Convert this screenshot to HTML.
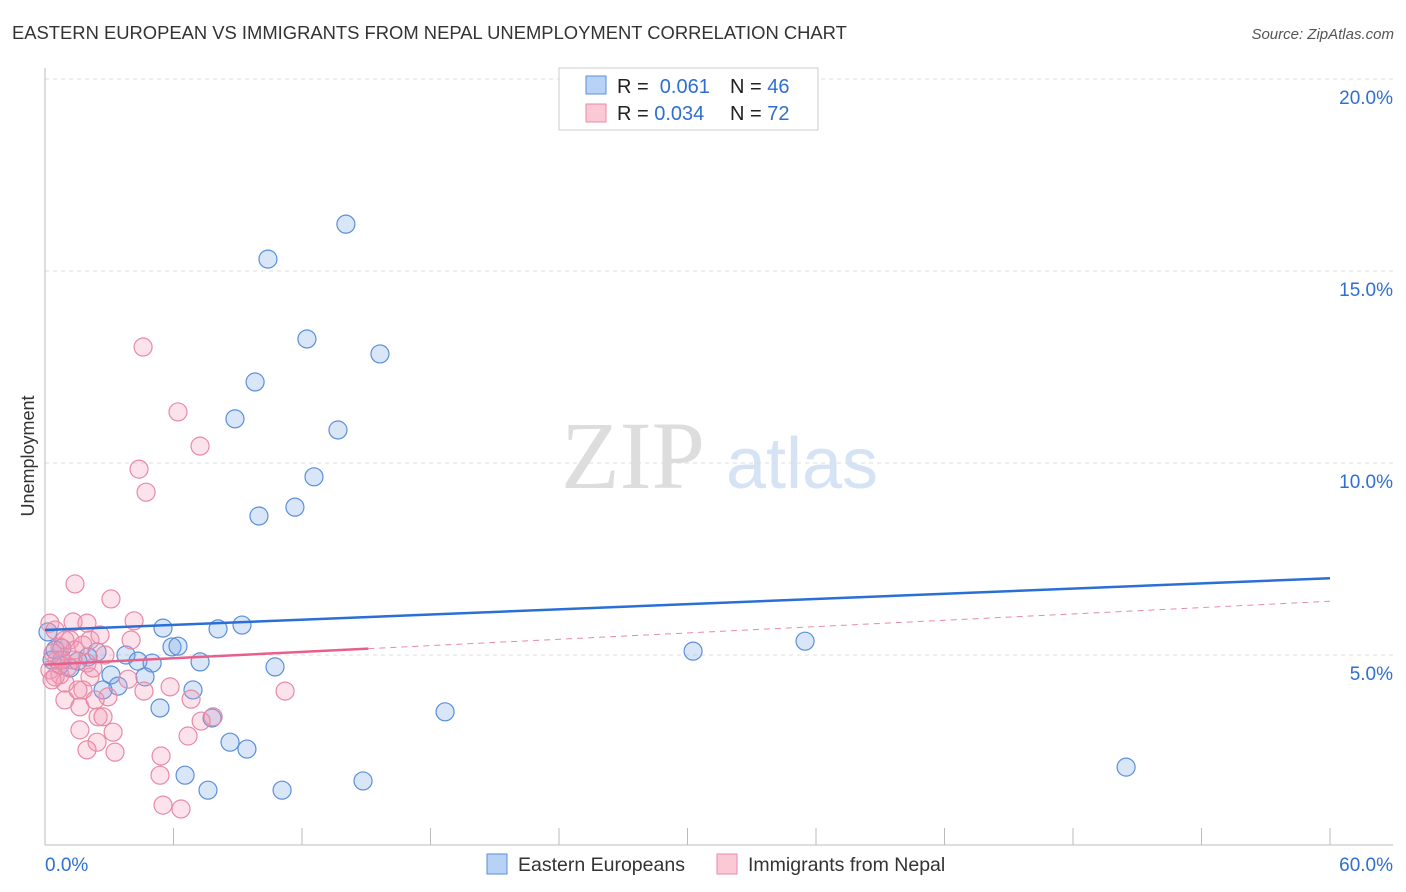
<!DOCTYPE html>
<html><head><meta charset="utf-8"><style>
body{margin:0;background:#fff;font-family:"Liberation Sans",sans-serif;}
svg{display:block}
</style></head><body>
<svg id="c" width="1406" height="892">
<text x="12" y="39" font-size="18.4" fill="#333">EASTERN EUROPEAN VS IMMIGRANTS FROM NEPAL UNEMPLOYMENT CORRELATION CHART</text>
<text x="1394" y="39" font-size="15" fill="#555" font-style="italic" text-anchor="end">Source: ZipAtlas.com</text>
<text x="633" y="488" font-size="96" fill="#ddd" font-family="Liberation Serif,serif" text-anchor="middle">ZIP</text>
<text x="802" y="488" font-size="72" fill="#d5e3f5" text-anchor="middle">atlas</text>
<text transform="translate(34,456) rotate(-90)" font-size="18" fill="#333" text-anchor="middle">Unemployment</text>
<g id="grid"></g><g id="marks"></g>
<g>
<rect x="559" y="68" width="259" height="62" fill="#fff" stroke="#ccc"/>
<rect x="586" y="76" width="20" height="18" fill="#b8d2f5" stroke="#5b8fd9"/>
<rect x="586" y="104" width="20" height="18" fill="#fbc8d6" stroke="#e88aa6"/>
<text x="617" y="93" font-size="20" fill="#222">R = <tspan fill="#2e6fd0">&#160;0.061</tspan><tspan x="730">N = </tspan><tspan fill="#2e6fd0">46</tspan></text>
<text x="617" y="120" font-size="20" fill="#222">R = <tspan fill="#2e6fd0">0.034</tspan><tspan x="730">N = </tspan><tspan fill="#2e6fd0">72</tspan></text>
</g>
<g>
<rect x="487" y="854" width="20" height="20" fill="#b8d2f5" stroke="#5b8fd9"/>
<text x="518" y="871" font-size="19.5" fill="#333">Eastern Europeans</text>
<rect x="717" y="854" width="20" height="20" fill="#fbc8d6" stroke="#e88aa6"/>
<text x="748" y="871" font-size="19.5" fill="#333">Immigrants from Nepal</text>
</g>
</svg>
<script>
const xTickLabels=["0.0%","60.0%"];
const yTicks=[5,10,15,20];
const blueX=[14.05,10.41,12.23,15.64,9.81,8.87,13.68,12.56,11.67,9.99,5.51,8.08,9.20,5.93,6.21,7.24,3.78,4.34,5.00,2.43,2.01,1.54,0.70,0.79,0.33,0.14,3.08,4.67,3.41,2.71,6.91,5.37,7.80,8.64,9.43,6.54,7.61,11.07,14.85,10.74,18.68,30.26,35.49,50.48,1.17,0.47];
const blueY=[16.22,15.31,13.23,12.84,12.11,11.15,10.86,9.64,8.85,8.62,5.70,5.68,5.78,5.21,5.23,4.82,5.00,4.84,4.79,5.08,4.95,4.84,4.74,5.18,4.87,5.60,4.48,4.43,4.19,4.09,4.09,3.62,3.36,2.73,2.55,1.87,1.48,1.48,1.72,4.69,3.52,5.10,5.36,2.08,4.66,5.13];
const pinkX=[1.40,3.08,0.23,1.31,1.96,4.16,4.02,1.17,0.70,1.77,2.80,0.23,0.70,0.93,2.10,3.88,4.62,5.84,6.82,1.77,0.93,1.63,2.94,2.48,2.71,7.85,7.29,6.68,1.63,3.18,2.43,1.96,3.27,5.42,5.37,5.51,6.35,11.21,0.56,0.37,1.07,1.31,0.47,1.96,2.34,4.58,6.21,7.24,4.39,4.72,0.47,0.93,1.40,2.24,1.54,0.33,0.79,2.10,2.57];
const pinkY=[6.85,6.46,5.83,5.86,5.83,5.89,5.39,5.39,5.21,5.26,5.00,4.61,4.48,4.27,4.43,4.37,4.06,4.17,3.85,4.09,3.83,3.65,3.91,3.39,3.39,3.39,3.28,2.89,3.05,2.99,2.73,2.53,2.47,2.37,1.87,1.09,0.99,4.06,4.87,5.05,4.69,4.87,4.43,4.79,3.83,13.02,11.33,10.44,9.84,9.24,5.65,5.39,5.13,4.66,4.09,4.35,4.87,5.39,5.52];
const blueTrend=[5.65,7.0];
const pinkTrend=[4.75,6.4];
const pinkSolidEnd=15.1;
const NS="http://www.w3.org/2000/svg";
const sx=v=>45+v*1285/60, sy=v=>847-v*38.4;
function mk(t,a,p){const e=document.createElementNS(NS,t);for(const k in a)e.setAttribute(k,a[k]);p.appendChild(e);return e;}
const g=document.getElementById('grid'), m=document.getElementById('marks');
yTicks.forEach(t=>{
 const l=mk('line',{x1:45,x2:1393,y1:sy(t),y2:sy(t),stroke:'#ddd','stroke-dasharray':'4,4'},g);
 
 
 const tx=mk('text',{x:1393,y:sy(t)+25,'font-size':19,fill:'#2e6fd0','text-anchor':'end'},g);
 tx.textContent=t.toFixed(1)+'%';
 
 
});
mk('line',{x1:45,x2:45,y1:68,y2:845,stroke:'#bbb'},g);
mk('line',{x1:45,x2:1393,y1:845,y2:845,stroke:'#bbb'},g);
for(let i=0;i<=10;i++){const x=sx(i*6);const l=mk('line',{x1:x,x2:x,y1:828,y2:845,stroke:'#bbb'},g);
 
 }
[[0,'start',45],[1,'end',1393]].forEach(([i,a,x])=>{const t=mk('text',{x:x,y:871,'font-size':19,fill:'#2e6fd0','text-anchor':a},g);t.textContent=xTickLabels[i];
 
 });
blueX.forEach((x,i)=>{const c=mk('circle',{cx:sx(x),cy:sy(blueY[i]),r:9,fill:'rgba(120,165,230,0.28)',stroke:'#5b8fd9','stroke-width':1.2},m);
 
 });
pinkX.forEach((x,i)=>{const c=mk('circle',{cx:sx(x),cy:sy(pinkY[i]),r:9,fill:'rgba(245,150,180,0.28)',stroke:'#e88aa6','stroke-width':1.2},m);
 
 });
const bl=mk('line',{x1:sx(0),y1:sy(blueTrend[0]),x2:sx(60),y2:sy(blueTrend[1]),stroke:'#2a6fd6','stroke-width':2.5},m);


const pe=pinkTrend[0]+(pinkTrend[1]-pinkTrend[0])*pinkSolidEnd/60;
const pd=mk('line',{x1:sx(pinkSolidEnd),y1:sy(pe),x2:sx(60),y2:sy(pinkTrend[1]),stroke:'#e88aa6','stroke-width':1,'stroke-dasharray':'6,5'},m);


const pl=mk('line',{x1:sx(0),y1:sy(pinkTrend[0]),x2:sx(pinkSolidEnd),y2:sy(pe),stroke:'#e8608a','stroke-width':2.5},m);


</script>
</body></html>
